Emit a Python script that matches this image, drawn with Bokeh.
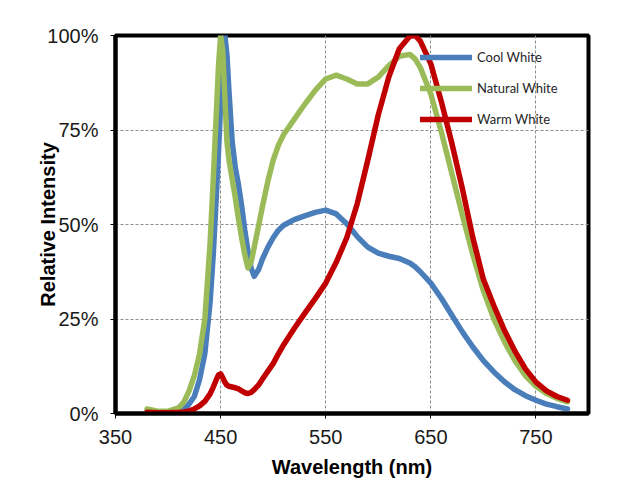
from bokeh.plotting import figure
from bokeh.models import (Range1d, FixedTicker, PrintfTickFormatter, Legend,
                          LegendItem)
from bokeh.embed import file_html
from bokeh.resources import INLINE

# Wavelength grid (nm)
wavelength = [380, 390, 400, 410, 415, 420, 425, 430, 435, 440, 443, 446, 448,
              450, 452, 454, 456, 458, 461, 464, 467, 470, 473, 476, 479, 482,
              486, 490, 495, 500, 505, 510, 520, 530, 540, 550, 560, 570, 580,
              590, 600, 610, 620, 630, 635, 640, 650, 660, 670, 680, 690, 700,
              710, 720, 730, 740, 750, 760, 770, 780]

cool_white = [0.5, 0.3, 0.3, 0.5, 1.0, 2.5, 4.5, 9, 15.8, 29.5, 42, 58, 69,
              82, 95, 100, 95, 85, 72, 65, 60.5, 55, 48.5, 43, 38.5, 36.3,
              38, 41, 44, 46.5, 48.5, 49.8, 51.3, 52.3, 53.2, 53.8, 52.8, 50.2, 46.8,
              44, 42.4, 41.6, 41, 39.8, 38.8, 37.5, 34.5, 30.5, 26, 21.6, 17.6, 14,
              11, 8.4, 6.3, 4.7, 3.5, 2.5, 1.8, 1.2]

natural_white = [1.2, 0.6, 0.6, 1.5, 3, 6, 10, 15.8, 25, 45, 62, 80, 92,
                 100, 96, 84, 72, 67, 62, 57, 51.5, 46.5, 42, 38.5, 40, 44,
                 49.5, 55, 61.5, 67, 71, 73.8, 77.8, 81.8, 85.5, 88.5, 89.5, 88.5, 87.2,
                 87.2, 89, 92, 94.5, 95, 93.8, 91.5, 84.5, 74.5, 63.5, 52.5, 42, 32.5,
                 25, 19, 14, 10, 7.2, 5.3, 4, 3.1]

warm_white = [0.3, 0.2, 0.2, 0.3, 0.4, 0.7, 1.2, 2, 3.2, 5.2, 7, 9, 10.2,
              10.5, 9.5, 8.3, 7.5, 7.2, 7, 6.8, 6.5, 6, 5.5, 5.3, 5.6, 6.3,
              7.5, 9.2, 11.2, 13.2, 15.8, 18.2, 22.5, 26.5, 30.4, 34.5, 40, 46.5, 55.5,
              67, 79, 89, 96.5, 99.8, 100, 98.5, 92.5, 82.5, 71.5, 59.5, 46.5, 35.5,
              28.5, 22, 16.5, 11.8, 8.3, 6, 4.5, 3.5]

series_names = ["Cool White", "Natural White", "Warm White"]
series_colors = ["#4A7EBB", "#9BBB59", "#C00000"]
x_ticks = [350, 450, 550, 650, 750]
y_ticks = [0, 25, 50, 75, 100]

p = figure(width=640, height=495, output_backend="svg", toolbar_location=None,
           x_range=Range1d(350, 800), y_range=Range1d(0, 100),
           min_border_left=115, min_border_right=52,
           min_border_top=35, min_border_bottom=82)

p.background_fill_color = "white"
p.border_fill_color = "white"
p.outline_line_color = "black"
p.outline_line_width = 4
p.styles = {"outline": "1px dotted #c8c8c8", "outline-offset": "-6px"}

# Axes
for ax in (p.xaxis[0], p.yaxis[0]):
    ax.axis_line_color = "black"
    ax.axis_line_width = 4
    ax.major_tick_line_color = "black"
    ax.major_tick_line_width = 1
    ax.major_tick_in = 0
    ax.major_tick_out = 5
    ax.minor_tick_line_color = None
    ax.major_label_text_font = "Liberation Sans"
    ax.major_label_text_font_size = "20px"
    ax.major_label_text_color = "#1a1a1a"
    ax.axis_label_text_font = "Liberation Sans"
    ax.axis_label_text_font_size = "20px"
    ax.axis_label_text_font_style = "bold"
    ax.axis_label_text_color = "black"

p.xaxis.ticker = FixedTicker(ticks=x_ticks)
p.yaxis.ticker = FixedTicker(ticks=y_ticks)
p.yaxis.formatter = PrintfTickFormatter(format="%d%%")
p.xaxis.axis_label = "Wavelength (nm)"
p.yaxis.axis_label = "Relative Intensity"
p.xaxis.major_label_standoff = 11
p.xaxis.axis_label_standoff = 9
p.yaxis.major_label_standoff = 12
p.yaxis.axis_label_standoff = -15

# Grid
for g in (p.xgrid[0], p.ygrid[0]):
    g.grid_line_color = "#8c8c8c"
    g.grid_line_width = 1
    g.grid_line_dash = "3 2"
p.xgrid.ticker = FixedTicker(ticks=x_ticks)
p.ygrid.ticker = FixedTicker(ticks=y_ticks)

# Lines
renderers = []
for ys, color in zip([cool_white, natural_white, warm_white], series_colors):
    r = p.line(wavelength, ys, line_color=color, line_width=5.5,
               line_join="round", line_cap="round")
    renderers.append(r)

legend = Legend(items=[LegendItem(label=n, renderers=[r])
                       for n, r in zip(series_names, renderers)],
                location=(305, 284))
legend.border_line_alpha = 0
legend.background_fill_alpha = 0
legend.padding = 0
legend.margin = 0
legend.spacing = 11
legend.glyph_width = 52
legend.glyph_height = 20
legend.label_height = 20
legend.label_standoff = 5
legend.label_text_font = "Lato"
legend.label_text_font_size = "13px"
legend.label_text_color = "#262626"
p.add_layout(legend)

open("out.html", "w").write(file_html(p, INLINE))
